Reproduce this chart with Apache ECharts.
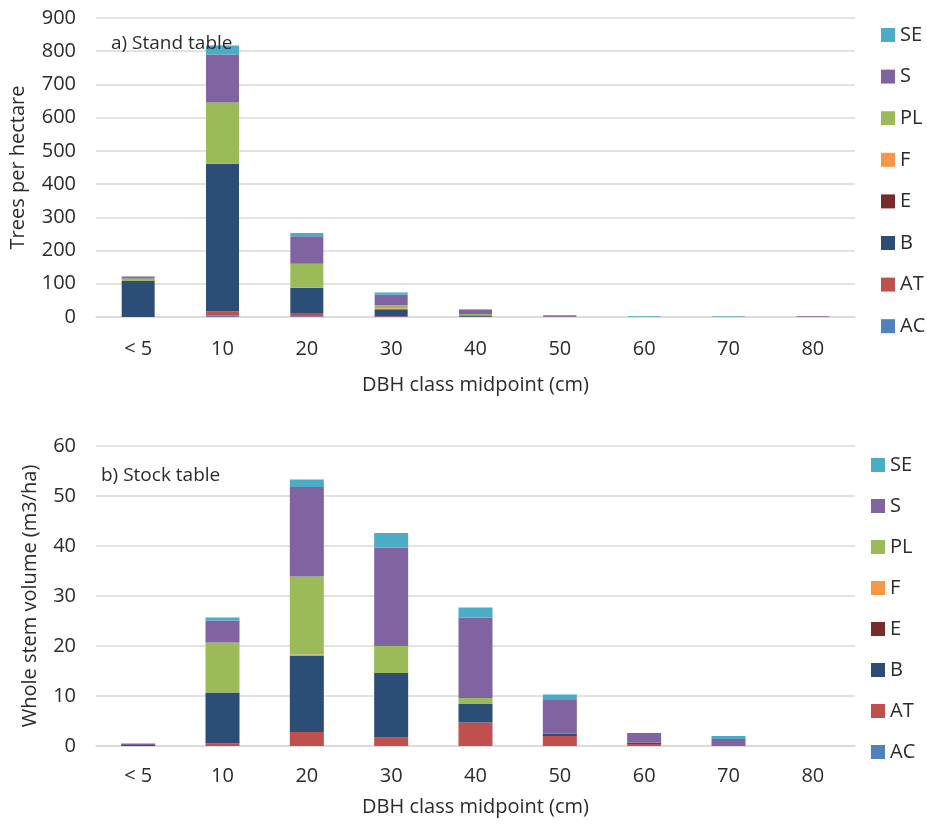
<!DOCTYPE html>
<html>
<head>
<meta charset="utf-8">
<script src="https://cdn.jsdelivr.net/npm/echarts@6/dist/echarts.min.js"></script>
<style>html,body{margin:0;padding:0;background:#fff;}#c{width:927px;height:825px;}</style>
</head>
<body>
<div id="c"></div>
<script>
const categories = ['< 5', '10', '20', '30', '40', '50', '60', '70', '80'];
const speciesNames = ['AC', 'AT', 'B', 'E', 'F', 'PL', 'S', 'SE'];
const speciesColors = ['#4F81BD', '#C0504D', '#2C4D75', '#772C2A', '#F79646', '#9BBB59', '#8064A2', '#4BACC6'];

// a) Stand table (trees per hectare)
const standAC = [0, 5, 2, 0, 0, 0, 0, 0, 0];
const standAT = [0, 12, 10, 2, 1, 0, 0, 0, 0];
const standB  = [108, 444, 76, 21, 3, 1, 0, 0, 0];
const standE  = [0, 0, 0, 0, 1, 0, 0, 0, 0];
const standF  = [0, 0, 0, 3, 1, 0, 0, 0, 0];
const standPL = [8, 185, 72, 9, 3, 0, 0, 0, 0];
const standS  = [6, 144, 83, 32, 12, 4, 0, 0.5, 2];
const standSE = [0, 27, 10, 7, 2, 1, 2, 1.5, 0];

// b) Stock table (whole stem volume m3/ha)
const stockAC = [0, 0, 0, 0, 0, 0, 0, 0, 0];
const stockAT = [0, 0.5, 2.8, 1.7, 4.7, 2.0, 0.4, 0, 0];
const stockB  = [0.2, 10.2, 15.2, 12.9, 3.7, 0.5, 0.3, 0, 0];
const stockE  = [0, 0, 0, 0, 0, 0, 0, 0, 0];
const stockF  = [0, 0, 0.3, 0, 0, 0, 0, 0, 0];
const stockPL = [0, 10.0, 15.6, 5.4, 1.2, 0, 0, 0, 0];
const stockS  = [0.3, 4.4, 17.9, 19.7, 16.1, 6.7, 1.9, 1.4, 0];
const stockSE = [0, 0.6, 1.5, 2.9, 2.0, 1.1, 0, 0.6, 0];

const standData = [standAC, standAT, standB, standE, standF, standPL, standS, standSE];
const stockData = [stockAC, stockAT, stockB, stockE, stockF, stockPL, stockS, stockSE];

const FONT = 'Open Sans';
const TXT = '#2b2b2b';
const GRIDC = '#d9d9d9';

function xAxis(gridIndex, labelMargin, nameGap) {
  return {
    type: 'category', gridIndex, data: categories,
    name: 'DBH class midpoint (cm)', nameLocation: 'middle', nameGap,
    nameTextStyle: {fontFamily: FONT, fontSize: 20, color: TXT},
    axisLine: {lineStyle: {color: GRIDC, width: 1.5}},
    axisTick: {show: false},
    axisLabel: {fontFamily: FONT, fontSize: 20, color: TXT, margin: labelMargin}
  };
}
function yAxis(gridIndex, max, interval, name, nameGap) {
  return {
    type: 'value', gridIndex, min: 0, max, interval,
    name, nameLocation: 'middle', nameGap, nameRotate: 90,
    nameTextStyle: {fontFamily: FONT, fontSize: 20, color: TXT},
    axisLine: {show: false}, axisTick: {show: false},
    splitLine: {lineStyle: {color: GRIDC, width: 1.5}},
    axisLabel: {fontFamily: FONT, fontSize: 20, color: TXT, margin: 20}
  };
}

const series = [];
speciesNames.forEach((n, i) => {
  series.push({name: n, type: 'bar', stack: 'a', xAxisIndex: 0, yAxisIndex: 0,
    barWidth: 33, data: standData[i], itemStyle: {color: speciesColors[i]}});
});
speciesNames.forEach((n, i) => {
  series.push({name: n, type: 'bar', stack: 'b', xAxisIndex: 1, yAxisIndex: 1,
    barWidth: 34, data: stockData[i], itemStyle: {color: speciesColors[i]}});
});

const legendOrder = speciesNames.slice().reverse();
function legend(left, top, gap) {
  return {
    orient: 'vertical', left, top, itemGap: gap, itemWidth: 14, itemHeight: 14,
    icon: 'rect', data: legendOrder,
    textStyle: {fontFamily: FONT, fontSize: 20, color: TXT, lineHeight: 20}
  };
}

const chart = echarts.init(document.getElementById('c'));
chart.setOption({
  animation: false,
  backgroundColor: '#fff',
  title: [
    {text: 'a) Stand table', left: 106, top: 29, textStyle: {fontFamily: FONT, fontSize: 19, fontWeight: 'normal', color: TXT}},
    {text: 'b) Stock table', left: 96, top: 461, textStyle: {fontFamily: FONT, fontSize: 19, fontWeight: 'normal', color: TXT}}
  ],
  legend: [legend(876, 20, 21.6), legend(866, 450, 21)],
  grid: [
    {left: 96, right: 72, top: 18, height: 299},
    {left: 96, right: 72, top: 446, height: 300}
  ],
  xAxis: [xAxis(0, 22, 58), xAxis(1, 20, 51)],
  yAxis: [yAxis(0, 900, 100, 'Trees per hectare', 68), yAxis(1, 60, 10, 'Whole stem volume (m3/ha)', 56)],
  series
});
</script>
</body>
</html>
